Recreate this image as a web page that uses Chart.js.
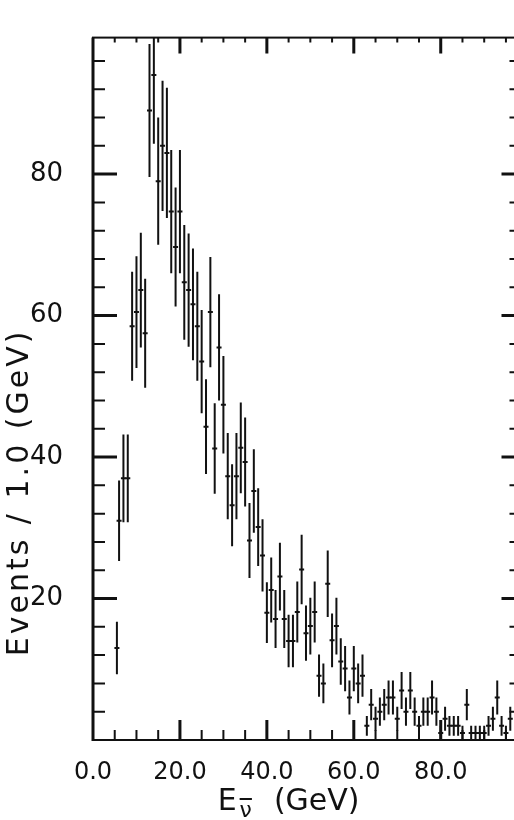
<!DOCTYPE html>
<html>
<head>
<meta charset="utf-8">
<script src="https://cdn.jsdelivr.net/npm/chart.js@4"></script>
<style>
  html, body { margin: 0; padding: 0; background: #fff; overflow: hidden; }
  #wrap { width: 520px; height: 820px; position: relative; }
</style>
</head>
<body>
<div id="wrap"><canvas id="chart"></canvas></div>
<script>
// Antineutrino energy bins (GeV) and events per 1 GeV
const energy = [5.5, 6, 7, 8, 9, 10, 11, 12, 13, 14,
    15, 16, 17, 18, 19, 20, 21, 22, 23, 24,
    25, 26, 27, 28, 29, 30, 31, 32, 33, 34,
    35, 36, 37, 38, 39, 40, 41, 42, 43, 44,
    45, 46, 47, 48, 49, 50, 51, 52, 53, 54,
    55, 56, 57, 58, 59, 60, 61, 62, 63, 64,
    65, 66, 67, 68, 69, 70, 71, 72, 73, 74,
    75, 76, 77, 78, 79, 80, 81, 82, 83, 84,
    85, 86, 87, 88, 89, 90, 91, 92, 93, 94,
    95, 96];

const events = [13, 31, 37, 37, 58.5, 60.5, 63.6, 57.5, 89, 94,
    79, 84, 83, 74.7, 69.7, 74.7, 64.7, 63.6, 61.6, 58.5,
    53.5, 44.3, 60.5, 41.2, 55.5, 47.4, 37.3, 33.2, 37.3, 41.3,
    39.3, 28.2, 35.2, 30.1, 26.1, 18, 21.2, 17.1, 23.1, 17.1,
    14, 14, 18.1, 24.1, 15.1, 16.1, 18.1, 9.1, 8, 22.1,
    14.1, 16.1, 11.1, 10.1, 6, 10.1, 8, 9.1, 2, 5,
    3, 4, 5, 6, 6, 3, 7, 4, 7, 4,
    2, 4, 4, 6, 4, 1, 3, 2, 2, 2,
    1, 5, 1, 1, 1, 1, 2, 3, 6, 2,
    1, 3];

// half-length of each vertical error bar
const errors = [3.7, 5.7, 6.2, 6.2, 7.7, 7.9, 8.1, 7.7, 9.4, 9.7,
    9.0, 9.2, 9.2, 8.7, 8.4, 8.7, 8.1, 8.0, 7.9, 7.7,
    7.3, 6.7, 7.8, 6.4, 7.5, 6.9, 6.1, 5.8, 6.1, 6.4,
    6.3, 5.3, 5.9, 5.5, 5.1, 4.3, 4.6, 4.1, 4.8, 4.1,
    3.7, 3.7, 4.3, 4.9, 3.9, 4.0, 4.3, 3.0, 2.8, 4.7,
    3.8, 4.0, 3.3, 3.2, 2.4, 3.2, 2.8, 3.0, 1.4, 2.2,
    1.7, 2.0, 2.2, 2.4, 2.4, 1.7, 2.6, 2.0, 2.6, 2.0,
    1.4, 2.0, 2.0, 2.4, 2.0, 1.0, 1.7, 1.4, 1.4, 1.4,
    1.0, 2.2, 1.0, 1.0, 1.0, 1.0, 1.4, 1.7, 2.4, 1.4,
    1.0, 1.7];

const xTicks = [0, 20, 40, 60, 80];
const yTicks = [20, 40, 60, 80];
const xMinorStep = 5;
const yMinorStep = 4;

const ink = '#111';
const font = "'DejaVu Sans', sans-serif";

// error bars, frame with inward ticks, axis titles
const paperLook = {
    id: 'paperLook',
    afterDatasetsDraw(chart) {
        const { ctx, chartArea: a, scales: { x, y } } = chart;
        ctx.save();
        ctx.beginPath();
        ctx.rect(a.left, a.top, a.width, a.height);
        ctx.clip();
        ctx.strokeStyle = ink;
        ctx.lineWidth = 2;
        energy.forEach((e, i) => {
            const px = x.getPixelForValue(e);
            ctx.beginPath();
            ctx.moveTo(px, y.getPixelForValue(events[i] - errors[i]));
            ctx.lineTo(px, y.getPixelForValue(events[i] + errors[i]));
            ctx.stroke();
        });
        ctx.restore();
    },
    afterDraw(chart) {
        const { ctx, chartArea: a, scales: { x, y } } = chart;
        ctx.save();
        ctx.strokeStyle = ink;
        ctx.lineWidth = 2;
        ctx.strokeRect(a.left, a.top, a.width, a.height);
        ctx.lineWidth = 3;
        ctx.beginPath();
        ctx.moveTo(a.left, a.top);
        ctx.lineTo(a.left, a.bottom + 1);
        ctx.stroke();

        // x ticks, bottom and top
        for (let v = xMinorStep; v <= x.max; v += xMinorStep) {
            const px = x.getPixelForValue(v);
            const major = v % 20 === 0;
            ctx.lineWidth = major ? 3 : 2;
            ctx.beginPath();
            ctx.moveTo(px, a.bottom);
            ctx.lineTo(px, a.bottom - (major ? 20 : 10));
            ctx.moveTo(px, a.top);
            ctx.lineTo(px, a.top + (major ? 16 : 5));
            ctx.stroke();
        }
        // y ticks, left and right
        for (let v = yMinorStep; v <= y.max; v += yMinorStep) {
            const py = y.getPixelForValue(v);
            const major = v % 20 === 0;
            ctx.lineWidth = major ? 3 : 2;
            ctx.beginPath();
            ctx.moveTo(a.left, py);
            ctx.lineTo(a.left + (major ? 24 : 12), py);
            ctx.moveTo(a.right, py);
            ctx.lineTo(a.right - (major ? 14 : 6), py);
            ctx.stroke();
        }

        ctx.fillStyle = ink;
        // y title
        ctx.save();
        ctx.translate(20, y.getPixelForValue(35));
        ctx.rotate(-Math.PI / 2);
        ctx.font = '30px ' + font;
        ctx.letterSpacing = '3px';
        ctx.textAlign = 'center';
        ctx.textBaseline = 'middle';
        ctx.fillText('Events / 1.0 (GeV)', 0, 0);
        ctx.restore();

        // x title: E with nu-bar subscript, then (GeV)
        const big = '30px ' + font;
        const small = '22px ' + font;
        ctx.font = big;
        const wE = ctx.measureText('E').width;
        const wG = ctx.measureText('(GeV)').width;
        ctx.font = small;
        const wN = ctx.measureText('\u03BD').width;
        const gap = 22;
        const total = wE + 3 + wN + gap + wG;
        let cx = x.getPixelForValue(45) - total / 2;
        const base = 810;
        ctx.textAlign = 'left';
        ctx.textBaseline = 'alphabetic';
        ctx.font = big;
        ctx.fillText('E', cx, base);
        cx += wE + 3;
        ctx.font = small;
        ctx.fillText('\u03BD', cx, base + 7);
        ctx.lineWidth = 2;
        ctx.beginPath();
        ctx.moveTo(cx, base - 11);
        ctx.lineTo(cx + wN, base - 11);
        ctx.stroke();
        cx += wN + gap;
        ctx.font = big;
        ctx.fillText('(GeV)', cx, base);
        ctx.restore();
    }
};

const ctx = document.getElementById('chart').getContext('2d');
const chart = new Chart(ctx, {
    type: 'scatter',
    data: {
        datasets: [{
            data: energy.map((e, i) => ({ x: e, y: events[i] })),
            pointStyle: 'line',
            radius: 2.5,
            hoverRadius: 2.5,
            borderWidth: 2,
            borderColor: ink,
            backgroundColor: ink
        }]
    },
    options: {
        responsive: true,
        maintainAspectRatio: false,
        animation: false,
        events: [],
        layout: { padding: { top: 10, right: 4, left: 0, bottom: 0 } },
        plugins: {
            legend: { display: false },
            tooltip: { enabled: false }
        },
        scales: {
            x: {
                type: 'linear',
                min: 0,
                max: 97.2,
                afterBuildTicks: s => { s.ticks = xTicks.map(v => ({ value: v })); },
                afterFit: s => { s.height = 80; },
                grid: { display: false },
                border: { display: false },
                ticks: {
                    color: ink,
                    font: { family: font, size: 24 },
                    padding: 10,
                    maxRotation: 0,
                    autoSkip: false,
                    callback: v => v.toFixed(1)
                }
            },
            y: {
                type: 'linear',
                min: 0,
                max: 99.3,
                afterBuildTicks: s => { s.ticks = yTicks.map(v => ({ value: v })); },
                afterFit: s => { s.width = 93; },
                grid: { display: false },
                border: { display: false },
                ticks: {
                    color: ink,
                    font: { family: font, size: 26 },
                    padding: 22
                }
            }
        }
    },
    plugins: [paperLook]
});
</script>
</body>
</html>
